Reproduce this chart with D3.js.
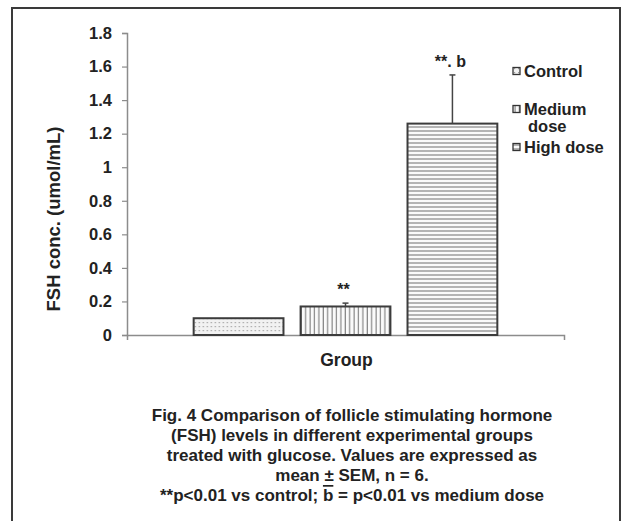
<!DOCTYPE html>
<html>
<head>
<meta charset="utf-8">
<script src="https://cdn.jsdelivr.net/npm/d3@7"></script>
<style>
  html, body { margin: 0; padding: 0; background: #fff; }
  svg text { font-family: "Liberation Sans", Arial, sans-serif; fill: #222; }
</style>
</head>
<body>
<div id="chart"></div>
<script>
// data
const category = ["Group"];
const series = ["Control", "Medium dose", "High dose"];
const means = [0.10, 0.17, 1.26];
const sems = [0, 0.02, 0.29];
const marks = ["", "**", "**. b"];
const legendLines = [["Control"], ["Medium", "dose"], ["High dose"]];
const yTicks = [0, 0.2, 0.4, 0.6, 0.8, 1, 1.2, 1.4, 1.6, 1.8];
// each caption line split in parts, the "b" part is overlined in the figure
const captionLines = [
  ["Fig. 4 Comparison of follicle stimulating hormone"],
  ["(FSH) levels in different experimental groups"],
  ["treated with glucose. Values are expressed as"],
  ["mean \u00B1 SEM, n = 6."],
  ["**p<0.01 vs control; ", "b", " = p<0.01 vs medium dose"]
];

const W = 632, H = 521;
const margin = {top: 33, left: 127, right: 68, bottom: 186};
const height = H - margin.top - margin.bottom;
const width = W - margin.left - margin.right;

const svg = d3.select("#chart").append("svg")
  .attr("width", W)
  .attr("height", H);

const defs = svg.append("defs");

// dotted fill for control
let p = defs.append("pattern").attr("id", "pat0")
  .attr("patternUnits", "userSpaceOnUse").attr("width", 4).attr("height", 4);
p.append("rect").attr("width", 4).attr("height", 4).attr("fill", "#f2f2f2");
p.append("rect").attr("x", 1).attr("y", 1).attr("width", 1.2).attr("height", 1.2).attr("fill", "#9a9a9a");

// vertical lines for medium dose
p = defs.append("pattern").attr("id", "pat1")
  .attr("patternUnits", "userSpaceOnUse").attr("width", 4.4).attr("height", 4);
p.append("rect").attr("width", 4.4).attr("height", 4).attr("fill", "#fafafa");
p.append("line").attr("x1", 2).attr("x2", 2).attr("y1", 0).attr("y2", 4)
  .attr("stroke", "#6e6e6e").attr("stroke-width", 1);

// horizontal lines for high dose
p = defs.append("pattern").attr("id", "pat2")
  .attr("patternUnits", "userSpaceOnUse").attr("width", 4).attr("height", 4);
p.append("rect").attr("width", 4).attr("height", 4).attr("fill", "#fafafa");
p.append("line").attr("x1", 0).attr("x2", 4).attr("y1", 2).attr("y2", 2)
  .attr("stroke", "#6e6e6e").attr("stroke-width", 1);

// outer frame (scan border)
svg.append("path")
  .attr("d", "M12,530 V8 H620 V530")
  .attr("fill", "none").attr("stroke", "#3a3a3a").attr("stroke-width", 2);

const g = svg.append("g").attr("transform", `translate(${margin.left},${margin.top})`);

const x0 = d3.scaleBand().domain(category).range([0, width]).padding(0.18);
const x1 = d3.scaleBand().domain(series).range([0, x0.bandwidth()]).paddingInner(0.16);
const y = d3.scaleLinear().domain([0, 1.8]).range([height, 0]);

// y axis
const yAxis = g.append("g")
  .call(d3.axisLeft(y).tickValues(yTicks).tickSize(5).tickPadding(10)
    .tickFormat(d => +d.toFixed(1)));
yAxis.select(".domain").attr("stroke", "#8c8c8c").attr("stroke-width", 1.5);
yAxis.selectAll(".tick line").attr("stroke", "#8c8c8c").attr("stroke-width", 1.2);
yAxis.selectAll(".tick text")
  .style("font-size", "16.5px").style("font-weight", "bold").attr("fill", "#222");

// x axis (only boundary ticks)
const xAxis = g.append("g").attr("transform", `translate(0,${height})`)
  .call(d3.axisBottom(x0).tickValues([]).tickSizeOuter(5));
xAxis.select(".domain").attr("stroke", "#8c8c8c").attr("stroke-width", 1.5);

// bars
const bars = g.append("g").attr("transform", `translate(${x0(category[0])},0)`);
bars.selectAll("rect").data(series).join("rect")
  .attr("x", d => x1(d))
  .attr("y", (d, i) => y(means[i]))
  .attr("width", x1.bandwidth())
  .attr("height", (d, i) => y(0) - y(means[i]))
  .attr("fill", (d, i) => `url(#pat${i})`)
  .attr("stroke", "#3c3c3c").attr("stroke-width", 2);

// error bars (upper only)
const err = bars.selectAll("g.err").data(series.filter((d, i) => sems[i] > 0)).join("g").attr("class", "err");
err.append("line")
  .attr("x1", d => x1(d) + x1.bandwidth() / 2)
  .attr("x2", d => x1(d) + x1.bandwidth() / 2)
  .attr("y1", d => y(means[series.indexOf(d)]))
  .attr("y2", d => { const i = series.indexOf(d); return y(means[i] + sems[i]); })
  .attr("stroke", "#444").attr("stroke-width", 1.5);
err.append("line")
  .attr("x1", d => x1(d) + x1.bandwidth() / 2 - 3)
  .attr("x2", d => x1(d) + x1.bandwidth() / 2 + 3)
  .attr("y1", d => { const i = series.indexOf(d); return y(means[i] + sems[i]); })
  .attr("y2", d => { const i = series.indexOf(d); return y(means[i] + sems[i]); })
  .attr("stroke", "#444").attr("stroke-width", 1.5);

// significance marks
bars.selectAll("text.mark").data(series).join("text").attr("class", "mark")
  .attr("x", d => x1(d) + x1.bandwidth() / 2 - 2)
  .attr("y", (d, i) => y(means[i] + sems[i]) - 8)
  .attr("text-anchor", "middle")
  .style("font-size", "16px").style("font-weight", "bold")
  .text((d, i) => marks[i]);

// axis titles
svg.append("text")
  .attr("transform", `translate(60,${margin.top + 186}) rotate(-90)`)
  .attr("text-anchor", "middle")
  .style("font-size", "18.5px").style("font-weight", "bold")
  .text("FSH conc. (umol/mL)");

svg.append("text")
  .attr("x", margin.left + x0(category[0]) + x0.bandwidth() / 2 + 1)
  .attr("y", 366)
  .attr("text-anchor", "middle")
  .style("font-size", "17.5px").style("font-weight", "bold")
  .text(category[0]);

// legend
const ly = d3.scalePoint().domain(series).range([71, 147]);
const leg = svg.append("g").selectAll("g").data(series).join("g")
  .attr("transform", d => `translate(513,${ly(d)})`);
leg.append("rect")
  .attr("x", 0).attr("y", -3.5).attr("width", 7).attr("height", 7)
  .attr("fill", (d, i) => `url(#pat${i})`)
  .attr("stroke", "#333").attr("stroke-width", 1.3);
leg.append("text")
  .attr("x", 11).attr("y", 5.5)
  .style("font-size", "16.5px").style("font-weight", "bold")
  .selectAll("tspan").data((d, i) => legendLines[i]).join("tspan")
  .attr("x", (d, j) => j === 0 ? 11 : 15)
  .attr("dy", (d, j) => j === 0 ? 0 : 17.5)
  .text(d => d);

// caption
svg.append("g").selectAll("text").data(captionLines).join("text")
  .attr("x", 352)
  .attr("y", (d, i) => 421 + i * 20)
  .attr("text-anchor", "middle")
  .style("font-size", "17px").style("font-weight", "bold")
  .selectAll("tspan").data(d => d).join("tspan")
  .style("text-decoration", d => d === "b" ? "overline" : null)
  .text(d => d);
</script>
</body>
</html>
